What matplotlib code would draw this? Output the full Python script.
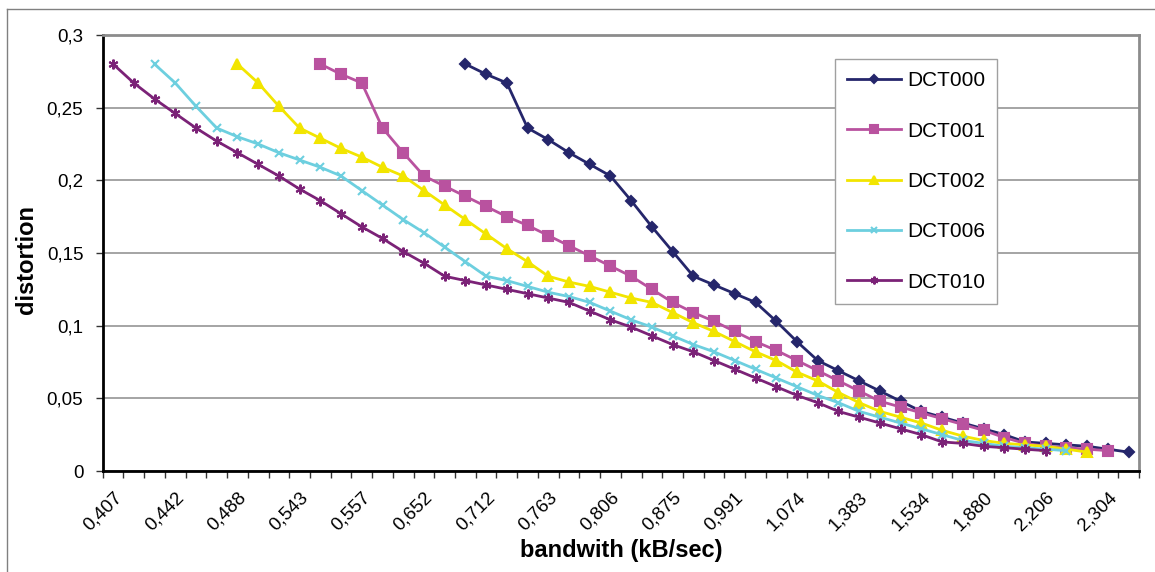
import numpy as np
import matplotlib
matplotlib.use("Agg")
import matplotlib.pyplot as plt
from matplotlib.lines import Line2D

plt.rcParams['font.family'] = ['Liberation Sans', 'DejaVu Sans']

# x categories shown on the axis (every 3rd of 50 categories)
n_cats = 50
tick_labels = ['0,407', '0,442', '0,488', '0,543', '0,557', '0,652', '0,712', '0,763', '0,806',
               '0,875', '0,991', '1,074', '1,383', '1,534', '1,880', '2,206', '2,304']

names = ['DCT000', 'DCT001', 'DCT002', 'DCT006', 'DCT010']
starts = [17, 10, 6, 2, 0]

dct000 = [0.280, 0.273, 0.267,
          0.236, 0.228, 0.219, 0.211, 0.203, 0.186, 0.168, 0.151, 0.134,
          0.128, 0.122, 0.116, 0.103, 0.089, 0.076, 0.069, 0.062, 0.055, 0.048,
          0.041, 0.037, 0.033, 0.029, 0.025, 0.020, 0.019, 0.018, 0.017, 0.015, 0.013]
dct001 = [0.280, 0.273, 0.267, 0.236, 0.219, 0.203, 0.196, 0.189, 0.182, 0.175,
          0.169, 0.162, 0.155, 0.148, 0.141, 0.134, 0.125, 0.116, 0.109,
          0.103, 0.096, 0.089, 0.083, 0.076, 0.069, 0.062, 0.055, 0.048, 0.044,
          0.040, 0.036, 0.032, 0.028, 0.023, 0.019, 0.017, 0.016, 0.015, 0.014]
dct002 = [0.280, 0.267, 0.251, 0.236,
          0.229, 0.222, 0.216, 0.209, 0.203, 0.193, 0.183, 0.173, 0.163, 0.153,
          0.144, 0.134, 0.130, 0.127, 0.123, 0.119, 0.116, 0.109, 0.102,
          0.096, 0.089, 0.082, 0.076, 0.068, 0.062, 0.054, 0.047, 0.041, 0.037,
          0.033, 0.028, 0.024, 0.021, 0.019, 0.018, 0.017, 0.015, 0.013]
dct006 = [0.280, 0.267, 0.251, 0.236, 0.230, 0.225, 0.219, 0.214,
          0.209, 0.203, 0.193, 0.183, 0.173, 0.164, 0.154, 0.144, 0.134, 0.131,
          0.127, 0.123, 0.120, 0.116, 0.110, 0.104, 0.099, 0.093, 0.087,
          0.082, 0.076, 0.070, 0.064, 0.058, 0.052, 0.047, 0.041, 0.037, 0.033,
          0.029, 0.025, 0.021, 0.019, 0.017, 0.016, 0.015, 0.014]
dct010 = [0.280, 0.267, 0.256, 0.246, 0.236, 0.227, 0.219, 0.211, 0.203, 0.194,
          0.186, 0.177, 0.168, 0.160, 0.151, 0.143, 0.134, 0.131, 0.128, 0.125,
          0.122, 0.119, 0.116, 0.110, 0.104, 0.099, 0.093, 0.087, 0.082, 0.076,
          0.070, 0.064, 0.058, 0.052, 0.047, 0.041, 0.037, 0.033, 0.029, 0.025,
          0.020, 0.019, 0.017, 0.016, 0.015, 0.014]
series = [dct000, dct001, dct002, dct006, dct010]

colors = ['#25266B', '#B9529F', '#F2E500', '#6DCFDF', '#7B2277']
markers = ['D', 's', '^', 'x', (6, 2, 0)]
msizes = [5, 7, 7, 6, 7]

fig = plt.figure(figsize=(11.55, 5.72), dpi=100)
W, H = 1155, 572
ax = fig.add_axes([102.7 / W, 1 - 471 / H, (1139 - 102.7) / W, (471 - 35) / H])

for name, st, vals, c, m, ms in zip(names, starts, series, colors, markers, msizes):
    x = np.arange(st, st + len(vals))
    ax.plot(x, vals, color=c, lw=2.0, marker=m, markersize=ms,
            markerfacecolor=c, markeredgecolor=c, markeredgewidth=1.5,
            label=name, clip_on=False)

ax.set_xlim(-0.5, n_cats - 0.5)
ax.set_ylim(0, 0.3)
ax.set_yticks(np.arange(0, 0.301, 0.05))
ax.set_yticklabels(['0', '0,05', '0,1', '0,15', '0,2', '0,25', '0,3'], fontsize=13.5)
ax.yaxis.grid(True, color='#8C8C8C', lw=1.1)
ax.set_axisbelow(True)

ax.set_xticks(np.arange(0, n_cats, 3))
ax.set_xticklabels(tick_labels, rotation=45, ha='right', va='top',
                   rotation_mode='anchor', fontsize=13.5)
ax.set_xticks(np.arange(-0.5, n_cats, 1), minor=True)
ax.tick_params(axis='x', which='major', length=0, pad=13)
ax.tick_params(axis='x', which='minor', length=5, width=1, color='#333333')
ax.tick_params(axis='y', length=5, width=1, color='#333333', pad=9)

for s in ['left', 'bottom']:
    ax.spines[s].set_color('black')
    ax.spines[s].set_linewidth(2)
for s in ['top', 'right']:
    ax.spines[s].set_color('#8C8C8C')
    ax.spines[s].set_linewidth(2)

fig.text(621 / W, 1 - 550 / H, 'bandwith (kB/sec)', ha='center', va='center',
         fontsize=17, fontweight='bold')
fig.text(26 / W, 1 - 259 / H, 'distortion', ha='center', va='center',
         rotation=90, fontsize=17, fontweight='bold')

# outer chart frame
fig.add_artist(Line2D([7 / W, 7 / W], [0, 1 - 9 / H], transform=fig.transFigure,
                      color='#808080', lw=1))
fig.add_artist(Line2D([7 / W, 1], [1 - 9 / H, 1 - 9 / H], transform=fig.transFigure,
                      color='#808080', lw=1))

leg = ax.legend(loc='upper left', bbox_to_anchor=(835 / W, 1 - 59 / H),
                bbox_transform=fig.transFigure, borderaxespad=0, fontsize=15,
                frameon=True, fancybox=False, edgecolor='#A0A0A0', framealpha=1,
                handlelength=2.55, handletextpad=0.3, labelspacing=1.5,
                borderpad=0.6, markerscale=0.8)
leg.get_frame().set_linewidth(1)

fig.savefig('out.png', dpi=100)
